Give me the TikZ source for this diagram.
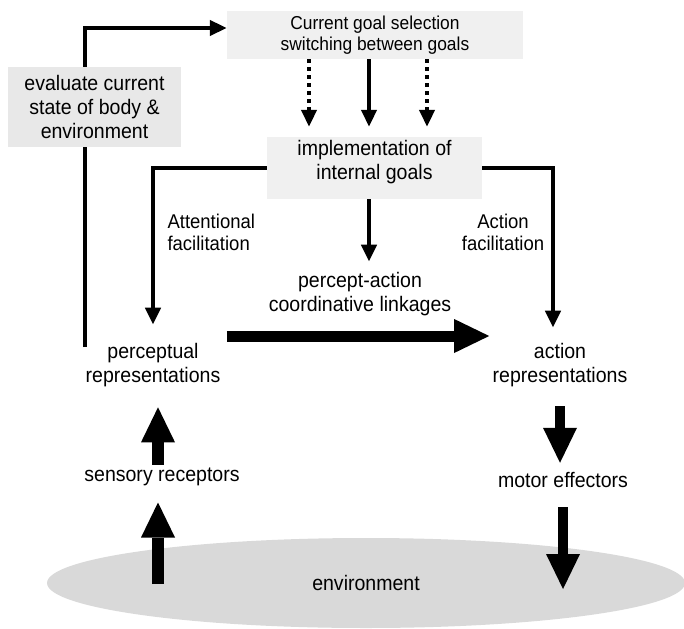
\documentclass[tikz,border=0pt]{standalone}
\usepackage{fontspec}
\setmainfont[FakeStretch=0.93]{Liberation Sans}
\usetikzlibrary{positioning,arrows.meta,shapes.geometric}

\begin{document}
\begin{tikzpicture}[
        x=1pt, y=-1pt,
        every node/.style={font=\fontsize{21}{24}\selectfont, align=center},
        box/.style={fill=gray!12, inner sep=0pt},
        small/.style={font=\fontsize{18.7}{21}\selectfont},
        label/.style={font=\fontsize{19.9}{22}\selectfont},
        arrow/.style={-{Triangle[length=17pt, width=15pt]}, line width=4.5pt},
        dotarrow/.style={arrow, dash pattern=on 4pt off 4pt},
        plain/.style={line width=4.5pt},
        block/.style={-{Triangle[length=35pt, width=34pt, line width=0pt]}, line width=12pt},
        thinblock/.style={block, line width=10pt}
    ]
        \useasboundingbox (0,0) rectangle (684,628);

        % Environment
        \node[ellipse, fill=gray!30, minimum width=638pt, minimum height=90pt] (env) at (366,583) {environment};

        % Goal boxes
        \node[box, small, minimum width=296pt, minimum height=48pt] (goalsel) at (375,35) {Current goal selection\\switching between goals};
        \node[box, fill=gray!18, minimum width=173pt, minimum height=80pt] (evaluate) at (94.5,107) {evaluate current\\state of body \&\\environment};
        \node[box, text depth=17pt, minimum width=215pt, minimum height=62pt] (implement) at (374.5,168) {implementation of\\internal goals};

        % Labels and representations
        \node[label, align=left, anchor=west] (attfac) at (164,232) {Attentional\\facilitation};
        \node[label] (actfac) at (503,232) {Action\\facilitation};
        \node (linkage) at (360,294) {percept-action\\coordinative linkages};
        \node (perceptual) at (153,365) {perceptual\\representations};
        \node (actrep) at (560,365) {action\\representations};
        \node (sensory) at (162,477) {sensory receptors};
        \node (motor) at (563,480) {motor effectors};

        % Free ends
        \coordinate (feedback) at (85,347);
        \coordinate (envup) at (158,584);
        \coordinate (envdown) at (563,589);

        % Feedback loop
        \draw[plain] (feedback) -- (feedback |- evaluate.south);
        \draw[arrow] (feedback |- evaluate.north) |- ([yshift=7pt]goalsel.west);

        % Goal selection to implementation
        \draw[dotarrow, shorten >=10pt] ([xshift=-66pt]goalsel.south) -- ([xshift=-66pt]goalsel.south |- implement.north);
        \draw[arrow, shorten >=10pt] ([xshift=-6pt]goalsel.south) -- ([xshift=-6pt]goalsel.south |- implement.north);
        \draw[dotarrow, shorten >=10pt] ([xshift=52pt]goalsel.south) -- ([xshift=52pt]goalsel.south |- implement.north);

        % Facilitation
        \draw[arrow] (implement.west) -| ([yshift=15pt]perceptual.north);
        \draw[arrow] (implement.east) -| ([xshift=-7pt, yshift=12pt]actrep.north);
        \draw[arrow, shorten >=7pt] ([xshift=-5.5pt]implement.south) -- ([xshift=-5.5pt]implement.south |- linkage.north);

        % Percept-action linkage
        \draw[block, line width=11pt, shorten <=3pt] ([yshift=29pt]perceptual.east) -- ([yshift=29pt]perceptual.east -| actrep.west);

        % Sensory side
        \draw[block, shorten >=17pt] ([xshift=-4pt]sensory.north) -- ([xshift=-4pt]sensory.north |- perceptual.south);
        \draw[block, shorten >=13pt] (envup) -- (envup |- sensory.south);

        % Motor side
        \draw[thinblock, shorten <=16pt, shorten >=6pt] (actrep.south) -- (actrep.south |- motor.north);
        \draw[thinblock, shorten <=16pt] (motor.south) -- (envdown);
    \end{tikzpicture}
\end{document}
